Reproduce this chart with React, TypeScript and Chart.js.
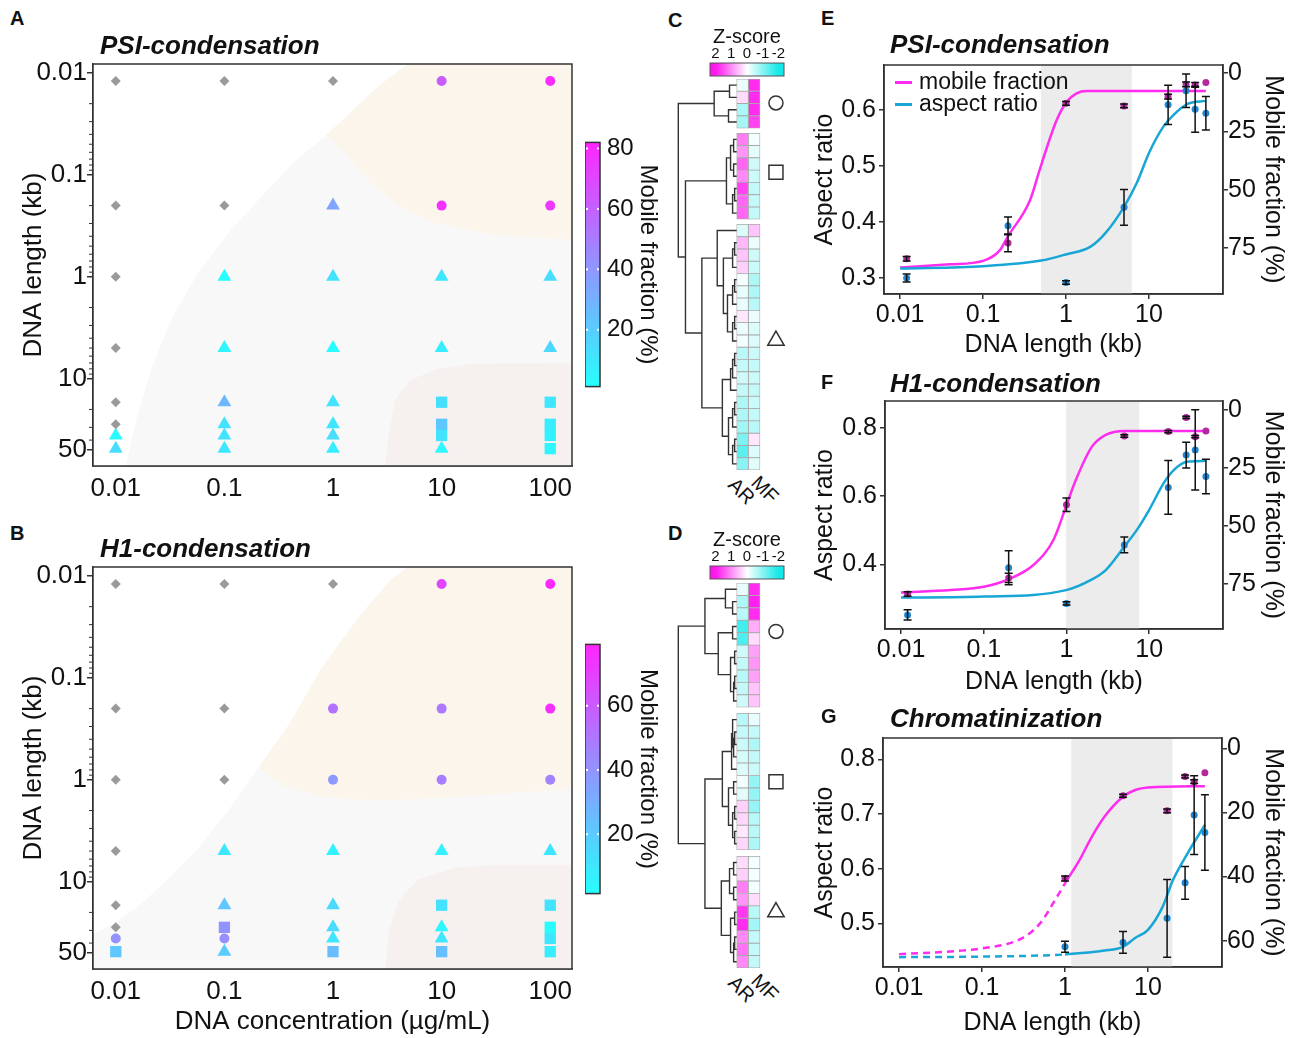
import React, { useEffect, useRef } from 'react';
import { Chart, registerables } from 'chart.js';

Chart.register(...registerables);

const FONT = "'Liberation Sans', Arial, Helvetica, sans-serif";
Chart.defaults.font.family = FONT;
Chart.defaults.color = '#111';

// ================= DATA: panels A & B =================
const concentrations = [0.01, 0.1, 1, 10, 100];
const lengthsKb = [0.012, 0.2, 1, 5, 17, 28, 36, 48.5];
const concTicks = [0.01, 0.1, 1, 10, 100];
const lengthTicks = [0.01, 0.1, 1, 10, 50];
const lengthMinorTicks = [0.02, 0.03, 0.04, 0.05, 0.06, 0.07, 0.08, 0.09, 0.2, 0.3, 0.4, 0.5, 0.6, 0.7, 0.8, 0.9, 2, 3, 4, 5, 6, 7, 8, 9, 20, 30, 40];

// D = no condensate, C = circle, T = triangle, S = square (rows = lengthsKb, cols = concentrations)
const shapesA = ['DDDCC', 'DDTCC', 'DTTTT', 'DTTTT', 'DTTSS', 'DTTSS', 'TTTSS', 'TTTTS'];
const mobileA = [
  [null, null, null, 62, 80],
  [null, null, 35, 78, 75],
  [null, 2, 12, 10, 14],
  [null, 5, 2, 8, 16],
  [null, 28, 12, 13, 10],
  [null, 12, 10, 22, 8],
  [3, 12, 14, 12, 6],
  [14, 10, 8, 4, 5],
];
const shapesB = ['DDDCC', 'DDCCC', 'DDCCC', 'DTTTT', 'DTTSS', 'DSTTS', 'CCTTS', 'STSSS'];
const mobileB = [
  [null, null, null, 68, 78],
  [null, null, 52, 50, 76],
  [null, null, 38, 48, 46],
  [null, 10, 6, 6, 10],
  [null, 22, 15, 12, 12],
  [null, 40, 14, 4, 3],
  [40, 42, 10, 10, 10],
  [22, 20, 25, 24, 8],
];
const colorbarRangeA = [1.2, 82];
const colorbarRangeB = [1.5, 79.1];
const colorbarTicksA = [20, 40, 60, 80];
const colorbarTicksB = [20, 40, 60];

// background regions [concentration, length]
const whiteRegionA = [[0.001, 0.001], [4.91, 0.001], [4.91, 0.0082], [2.69, 0.0131], [1.53, 0.0231], [0.873, 0.0405], [0.458, 0.0714], [0.241, 0.146], [0.108, 0.374], [0.0567, 0.924], [0.0323, 2.65], [0.0216, 7.62], [0.0157, 23.6], [0.0123, 71.9], [0.0118, 1000], [0.001, 1000]];
const beigeRegionA = [[4.91, 0.001], [1000, 0.001], [1000, 0.435], [155, 0.435], [29.9, 0.389], [8.95, 0.299], [4.01, 0.204], [1.95, 0.104], [1.2, 0.057], [0.873, 0.0405], [1.53, 0.0231], [2.69, 0.0131], [4.91, 0.0082]];
const pinkRegionA = [[3.0, 1000], [3.03, 71.9], [3.26, 34.4], [3.72, 16.2], [5.13, 10.3], [8.95, 8.1], [20, 7.1], [1000, 7.0], [1000, 1000]];
const whiteRegionB = [[0.001, 0.001], [4.91, 0.001], [4.91, 0.0081], [3.42, 0.0109], [1.8, 0.0238], [0.806, 0.0764], [0.391, 0.288], [0.205, 0.762], [0.108, 2.02], [0.0568, 4.75], [0.0299, 9.57], [0.0157, 17.9], [0.00968, 25.4], [0.00649, 32.1], [0.001, 40]];
const beigeRegionB = [[4.91, 0.001], [1000, 0.001], [1000, 1.22], [155, 1.22], [13.4, 1.48], [2.69, 1.6], [0.806, 1.48], [0.361, 1.17], [0.205, 0.762], [0.391, 0.288], [0.806, 0.0764], [1.8, 0.0238], [3.42, 0.0109], [4.91, 0.0081]];
const pinkRegionB = [[3.0, 1000], [3.03, 73.8], [3.26, 30.8], [4.02, 15.3], [6.0, 9.57], [13.4, 7.29], [29.9, 6.9], [1000, 6.9], [1000, 1000]];

// ================= DATA: panels C & D (heatmaps) =================
const zTicks = [2, 1, 0, -1, -2];
const groupSizesC = [4, 7, 20];
const zAspectC = [-0.15, 0.3, -0.7, -0.75, 1.1, 0.9, 1.3, 1.0, 1.6, 1.3, 1.3, -0.3, 0.6, 0.5, 0.4, -0.1, -0.2, -0.2, 0.2, -0.15, -0.1, -0.6, -0.5, -0.4, -0.5, -0.7, -0.7, -0.8, -1.1, -1.4, -1.0];
const zMobileC = [1.8, 1.8, 1.8, 1.6, -0.1, -0.25, -0.4, -0.45, -0.5, -0.5, -0.5, 0.5, -0.15, -0.4, -0.45, -0.7, -0.7, -0.6, -0.15, -0.3, -0.3, -0.45, -0.5, -0.45, -0.5, -0.45, -0.5, -0.6, 0.2, -0.3, -0.25];
const mergesC = [
  ['L0', 'L1', 7], ['L2', 'L3', 8], ['M0', 'M1', 22],
  ['L4', 'L5', 3], ['L6', 'L7', 3], ['M3', 'M4', 6], ['L8', 'L9', 2], ['M6', 'L10', 4], ['M5', 'M7', 10],
  ['L12', 'L13', 2], ['M9', 'L14', 4], ['L15', 'L16', 2], ['M11', 'L17', 4], ['L18', 'L19', 2], ['M13', 'L20', 4],
  ['M12', 'M14', 9], ['M10', 'M15', 13], ['L11', 'M16', 19],
  ['L21', 'L22', 2], ['M18', 'L23', 4], ['M19', 'L24', 6], ['L25', 'L26', 2], ['M21', 'L27', 4], ['L28', 'L29', 2], ['M23', 'L30', 4],
  ['M22', 'M24', 8], ['M20', 'M25', 14], ['M17', 'M26', 34], ['M8', 'M27', 50], ['M2', 'M28', 57],
];
const markerRowsC = [1.45, 7.1, 20.8];

const groupSizesD = [10, 11, 9];
const zAspectD = [-0.2, -0.7, -0.6, -1.6, -1.5, -0.4, -0.5, -0.6, -0.5, -0.4, -0.6, -0.5, -0.45, -0.35, -0.3, -0.1, -0.25, 0.4, 0.35, 0.2, 0.35, 0.3, 0.4, 1.1, 0.9, 1.7, 1.8, 1.0, 1.2, 1.0];
const zMobileD = [1.8, 1.9, 1.8, 0.7, 0.3, 0.8, 0.9, 0.8, 0.5, 0.5, -0.2, -0.5, -0.7, -0.5, -0.45, -0.9, -0.9, -0.9, -0.6, -0.6, -0.7, -0.1, -0.1, -0.1, 0.3, -0.6, -0.8, -0.5, -0.5, -0.5];
const mergesD = [
  ['L1', 'L2', 4], ['L0', 'M0', 11], ['L3', 'L4', 4], ['L5', 'L6', 2], ['L7', 'L8', 2], ['M4', 'L9', 3], ['M3', 'M5', 6], ['M2', 'M6', 18], ['M1', 'M7', 31],
  ['L11', 'L12', 2], ['M9', 'L13', 3], ['L10', 'M10', 4], ['M11', 'L14', 5], ['L15', 'L16', 3], ['L17', 'L18', 2], ['L19', 'L20', 2], ['M14', 'M15', 4], ['M13', 'M16', 8], ['M12', 'M17', 14],
  ['L21', 'L22', 3], ['L23', 'L24', 3], ['M19', 'M20', 7], ['L25', 'L26', 2], ['L27', 'L28', 2], ['M23', 'L29', 3], ['M22', 'M24', 6], ['M21', 'M25', 15],
  ['M18', 'M26', 31], ['M8', 'M27', 57],
];
const markerRowsD = [3.4, 15.5, 26.0];

// ================= DATA: panels E, F, G =================
const lengthAxisTicks = [0.01, 0.1, 1, 10];

const bandE = [0.5, 6.2];
const mobileE = [79.6, 72.8, 13.0, 14.1, 10.1, 4.9, 5.1, 4.1];
const mobileErrE = [1.0, 3.8, 0.8, 0.8, 1.0, 1.0, 1.0, 0];
const aspectE = [0.3, 0.393, 0.292, 0.426, 0.609, 0.634, 0.601, 0.594];
const aspectErrE = [0.007, 0.016, 0.003, 0.032, 0.035, 0.03, 0.041, 0.03];
const mobileFitXE = [0.01, 0.04, 0.1, 0.16, 0.198, 0.368, 0.48, 0.61, 0.77, 1.02, 1.34, 1.78, 48.5];
const mobileFitYE = [83.3, 82.0, 80.5, 75.9, 70.2, 54.5, 41.6, 30.2, 20.2, 12.3, 8.7, 7.7, 7.7];
const aspectFitXE = [0.01, 0.1, 0.5, 0.99, 1.98, 2.98, 5.0, 7.1, 10, 14.9, 19.8, 29.6, 48.5];
const aspectFitYE = [0.317, 0.321, 0.331, 0.342, 0.356, 0.38, 0.427, 0.469, 0.523, 0.57, 0.591, 0.611, 0.616];

const bandF = [0.99, 7.6];
const mobileF = [79.3, 72.4, 40.8, 11.2, 9.3, 3.2, 11.5, 9.0];
const mobileErrF = [1.0, 2.0, 2.9, 0.5, 0.5, 0.5, 0.5, 0];
const aspectF = [0.251, 0.39, 0.285, 0.457, 0.626, 0.721, 0.736, 0.658];
const aspectErrF = [0.015, 0.05, 0.005, 0.023, 0.079, 0.038, 0.118, 0.051];
const mobileFitXF = [0.01, 0.04, 0.1, 0.198, 0.405, 0.7, 0.99, 1.3, 2.03, 2.98, 5.0, 48.5];
const mobileFitYF = [78.7, 77.6, 76.2, 73.0, 66.6, 55.8, 41.5, 30.1, 15.8, 10.7, 9.0, 9.0];
const aspectFitXF = [0.01, 0.1, 0.99, 1.98, 2.98, 5.0, 7.1, 10, 14.9, 19.8, 29.6, 48.5];
const aspectFitYF = [0.302, 0.305, 0.324, 0.354, 0.383, 0.452, 0.501, 0.56, 0.638, 0.677, 0.702, 0.704];

const bandG = [1.19, 19.7];
const mobileG = [null, null, 40.6, 14.8, 19.5, 8.8, 10.4, 7.6];
const mobileErrG = [0, 0, 0.8, 0.5, 0.6, 0.5, 0.6, 0];
const aspectG = [null, null, 0.457, 0.465, 0.509, 0.574, 0.698, 0.666];
const aspectErrG = [0, 0, 0.01, 0.02, 0.071, 0.03, 0.072, 0.069];
const mobileFitXG = [0.01, 0.05, 0.1, 0.3, 0.5, 0.8, 1.0, 1.5, 2.0, 3.0, 5.0, 7.0, 10, 48.5];
const mobileFitYG = [64.2, 63.2, 62.4, 59.3, 54.6, 46.3, 42.1, 34.8, 28.6, 21.3, 15.1, 13.0, 12.2, 11.8];
const aspectFitXG = [0.01, 0.1, 0.5, 1.0, 3.0, 5.0, 7.0, 10, 15, 20, 30, 48.5];
const aspectFitYG = [0.438, 0.439, 0.441, 0.443, 0.45, 0.457, 0.473, 0.488, 0.53, 0.579, 0.628, 0.68];

// ================= styles =================
const MAGENTA = '#ff2bef';
const CYAN = '#17a6d6';
const MF_POINT = '#b4299f';
const AR_POINT = '#1f86cf';
const AXIS = '#333';
const GRAY_MARK = '#9a9a9a';

function coolColor(v: number, lo: number, hi: number) {
  const t = Math.max(0, Math.min(1, (v - lo) / (hi - lo)));
  const r = Math.round(255 - 0.85 * 255 * (1 - t));
  const g = Math.round(255 - 0.85 * 255 * t);
  return `rgb(${r},${g},255)`;
}

function zColor(z: number) {
  const t = Math.min(1, Math.abs(z) / 2);
  const target = z >= 0 ? [255, 20, 238] : [20, 232, 232];
  const c = target.map((ch) => Math.round(255 + (ch - 255) * t));
  return `rgb(${c[0]},${c[1]},${c[2]})`;
}

const setTicks = (vals: number[]) => (s: any) => {
  s.ticks = vals.map((v) => ({ value: v }));
};
const noTicks = (s: any) => {
  s.ticks = [];
};
const fmt = (v: any) => String(Math.round(Number(v) * 1000) / 1000);

// ================= plugins =================
function regionPlugin(base: string, items: { color: string; pts: number[][] }[]) {
  return {
    id: 'regions',
    beforeDatasetsDraw(chart: any) {
      const { ctx, chartArea: a, scales } = chart;
      const sx = scales.x;
      const sy = scales.y;
      ctx.save();
      ctx.beginPath();
      ctx.rect(a.left, a.top, a.right - a.left, a.bottom - a.top);
      ctx.clip();
      ctx.fillStyle = base;
      ctx.fillRect(a.left, a.top, a.right - a.left, a.bottom - a.top);
      for (const it of items) {
        ctx.beginPath();
        it.pts.forEach(([vx, vy], i) => {
          const px = sx.getPixelForValue(vx);
          const py = sy.getPixelForValue(vy);
          if (i === 0) ctx.moveTo(px, py);
          else ctx.lineTo(px, py);
        });
        ctx.closePath();
        ctx.fillStyle = it.color;
        ctx.fill();
      }
      ctx.restore();
    },
  };
}

function minorTickPlugin(values: number[]) {
  return {
    id: 'minorTicks',
    afterDatasetsDraw(chart: any) {
      const { ctx, chartArea: a, scales } = chart;
      ctx.save();
      ctx.strokeStyle = AXIS;
      ctx.lineWidth = 1;
      ctx.beginPath();
      values.forEach((v) => {
        const y = scales.y.getPixelForValue(v);
        if (y < a.top || y > a.bottom) return;
        ctx.moveTo(a.left - 4, y);
        ctx.lineTo(a.left, y);
      });
      ctx.stroke();
      ctx.restore();
    },
  };
}

const framePlugin = {
  id: 'frame',
  afterDatasetsDraw(chart: any) {
    const { ctx, chartArea: a } = chart;
    ctx.save();
    ctx.strokeStyle = AXIS;
    ctx.lineWidth = 1.5;
    ctx.strokeRect(a.left, a.top, a.right - a.left, a.bottom - a.top);
    ctx.restore();
  },
};

function bandPlugin(band: number[]) {
  return {
    id: 'band',
    beforeDatasetsDraw(chart: any) {
      const { ctx, chartArea: a, scales } = chart;
      const x1 = scales.x.getPixelForValue(band[0]);
      const x2 = scales.x.getPixelForValue(band[1]);
      ctx.save();
      ctx.fillStyle = '#ececec';
      ctx.fillRect(x1, a.top, x2 - x1, a.bottom - a.top);
      ctx.restore();
    },
  };
}

const errorBarPlugin = {
  id: 'errorBars',
  afterDatasetsDraw(chart: any) {
    const { ctx } = chart;
    ctx.save();
    ctx.strokeStyle = '#111';
    ctx.lineWidth = 1.5;
    chart.data.datasets.forEach((ds: any, i: number) => {
      if (!ds.errors) return;
      const meta = chart.getDatasetMeta(i);
      const ys = chart.scales[ds.yAxisID];
      ds.data.forEach((p: any, j: number) => {
        const e = ds.errors[j];
        if (p.y == null || !e) return;
        const el = meta.data[j];
        if (!el || !isFinite(el.x)) return;
        const x = el.x;
        const y1 = ys.getPixelForValue(p.y - e);
        const y2 = ys.getPixelForValue(p.y + e);
        ctx.beginPath();
        ctx.moveTo(x, y1);
        ctx.lineTo(x, y2);
        ctx.moveTo(x - 4, y1);
        ctx.lineTo(x + 4, y1);
        ctx.moveTo(x - 4, y2);
        ctx.lineTo(x + 4, y2);
        ctx.stroke();
      });
    });
    ctx.restore();
  },
};

function mobileBarPlugin(range: number[], ticks: number[]) {
  return {
    id: 'mobileBar',
    beforeDatasetsDraw(chart: any) {
      const { ctx, chartArea: a, scales } = chart;
      const y = scales.y;
      const g = ctx.createLinearGradient(0, y.getPixelForValue(range[0]), 0, y.getPixelForValue(range[1]));
      for (let i = 0; i <= 10; i++) g.addColorStop(i / 10, coolColor(range[0] + ((range[1] - range[0]) * i) / 10, range[0], range[1]));
      ctx.save();
      ctx.fillStyle = g;
      ctx.fillRect(a.left, a.top, a.right - a.left, a.bottom - a.top);
      ctx.fillStyle = '#fff';
      ticks.forEach((t) => {
        const py = y.getPixelForValue(t);
        ctx.fillRect(a.left + 1, py - 1, 2, 2);
        ctx.fillRect(a.right - 3, py - 1, 2, 2);
      });
      ctx.strokeStyle = AXIS;
      ctx.lineWidth = 1.5;
      ctx.strokeRect(a.left, a.top, a.right - a.left, a.bottom - a.top);
      ctx.restore();
    },
  };
}

const zBarPlugin = {
  id: 'zBar',
  beforeDatasetsDraw(chart: any) {
    const { ctx, chartArea: a, scales } = chart;
    const x = scales.x;
    const zl = x.getValueForPixel(a.left);
    const zr = x.getValueForPixel(a.right);
    const g = ctx.createLinearGradient(a.left, 0, a.right, 0);
    for (let i = 0; i <= 20; i++) g.addColorStop(i / 20, zColor(zl + ((zr - zl) * i) / 20));
    ctx.save();
    ctx.fillStyle = g;
    ctx.fillRect(a.left, a.top, a.right - a.left, a.bottom - a.top);
    ctx.strokeStyle = '#555';
    ctx.lineWidth = 1;
    ctx.strokeRect(a.left, a.top, a.right - a.left, a.bottom - a.top);
    ctx.restore();
  },
};

const baseOptions = {
  animation: false,
  responsive: false,
  devicePixelRatio: 1,
  events: [],
  plugins: { legend: { display: false }, tooltip: { enabled: false } },
};

// ================= chart configs =================
function phaseConfig(shapes: string[], mobile: (number | null)[][], cb: number[], regions: number[][][], xTitle: string, xHeight: number) {
  const styleOf: any = { D: 'rectRot', C: 'circle', T: 'triangle', S: 'rect' };
  const radiusOf: any = { D: 5, C: 5, T: 8, S: 8 };
  const datasets = ['D', 'S', 'T', 'C'].map((key) => {
    const data: any[] = [];
    const colors: string[] = [];
    lengthsKb.forEach((len, r) =>
      concentrations.forEach((c, k) => {
        if (shapes[r][k] !== key) return;
        data.push({ x: c, y: len });
        const m = mobile[r][k];
        colors.push(m == null ? GRAY_MARK : coolColor(m, cb[0], cb[1]));
      })
    );
    return {
      type: 'scatter',
      data,
      pointStyle: styleOf[key],
      pointRadius: radiusOf[key],
      pointHoverRadius: radiusOf[key],
      backgroundColor: colors,
      borderColor: colors,
      borderWidth: 0,
    };
  });
  return {
    type: 'scatter',
    data: { datasets },
    options: {
      ...baseOptions,
      layout: { padding: { top: 20, right: 3, left: 0, bottom: 0 } },
      scales: {
        x: {
          type: 'logarithmic',
          min: 0.00617,
          max: 158.6,
          afterBuildTicks: setTicks(concTicks),
          ticks: { callback: fmt, font: { size: 26 }, color: '#111', padding: 7, maxRotation: 0, autoSkip: false },
          grid: { display: false, drawTicks: false },
          border: { color: AXIS, width: 1.5 },
          title: { display: !!xTitle, text: xTitle, font: { size: 26 }, color: '#111', padding: 0 },
          afterFit: (s: any) => {
            s.height = xHeight;
          },
        },
        y: {
          type: 'logarithmic',
          reverse: true,
          min: 0.00816,
          max: 71.8,
          afterBuildTicks: setTicks(lengthTicks),
          ticks: { callback: fmt, font: { size: 26 }, color: '#111', padding: 0, autoSkip: false },
          grid: { drawOnChartArea: false, drawTicks: true, tickLength: 6, color: AXIS, lineWidth: 1.5 },
          border: { color: AXIS, width: 1.5 },
          title: { display: true, text: 'DNA length (kb)', font: { size: 26 }, color: '#111', padding: 0 },
          afterFit: (s: any) => {
            s.width = 75;
          },
        },
      },
    },
    plugins: [
      regionPlugin('#f8f8f8', [
        { color: '#ffffff', pts: regions[0] },
        { color: '#fbf5eb', pts: regions[1] },
        { color: '#f6f0ee', pts: regions[2] },
      ]),
      minorTickPlugin(lengthMinorTicks),
      framePlugin,
    ],
  };
}

function mobileColorbarConfig(range: number[], ticks: number[]) {
  return {
    type: 'scatter',
    data: { datasets: [] },
    options: {
      ...baseOptions,
      layout: { padding: { top: 20, bottom: 20, left: 0, right: 0 } },
      scales: {
        x: { display: false, min: 0, max: 1 },
        y: {
          position: 'right',
          min: range[0],
          max: range[1],
          afterBuildTicks: setTicks(ticks),
          ticks: { callback: fmt, font: { size: 24 }, color: '#111', padding: 7, autoSkip: false },
          grid: { display: false, drawTicks: false },
          border: { display: false },
          title: { display: true, text: 'Mobile fraction (%)', font: { size: 24 }, color: '#111', padding: 0 },
          afterFit: (s: any) => {
            s.width = 62;
          },
        },
      },
    },
    plugins: [mobileBarPlugin(range, ticks)],
  };
}

function zColorbarConfig() {
  return {
    type: 'scatter',
    data: { datasets: [] },
    options: {
      ...baseOptions,
      layout: { padding: { top: 0, bottom: 1, left: 15, right: 16 } },
      scales: {
        x: {
          position: 'top',
          reverse: true,
          min: -2.35,
          max: 2.35,
          afterBuildTicks: setTicks(zTicks),
          ticks: { callback: fmt, font: { size: 15 }, color: '#111', padding: 0, autoSkip: false, maxRotation: 0 },
          grid: { display: false, drawTicks: false },
          border: { display: false },
          title: { display: true, text: 'Z-score', font: { size: 20 }, color: '#111', padding: 0 },
          afterFit: (s: any) => {
            s.height = 38;
          },
        },
        y: { display: false, min: 0, max: 1 },
      },
    },
    plugins: [zBarPlugin],
  };
}

function heatmapConfig(ar: number[], mf: number[], groups: number[], gap: number, merges: any[], markerRows: number[]) {
  const pos: number[] = [];
  let start = 0;
  groups.forEach((n, gi) => {
    for (let i = 0; i < n; i++) pos.push(start + i + gi * gap);
    start += n;
  });
  const nodes: any = {};
  pos.forEach((p, i) => {
    nodes['L' + i] = { h: 0, y: p };
  });
  const seg: any[] = [];
  merges.forEach(([a, b, h]: any, k: number) => {
    const A = nodes[a];
    const B = nodes[b];
    seg.push({ x: A.h, y: A.y }, { x: h, y: A.y }, { x: h, y: B.y }, { x: B.h, y: B.y }, { x: NaN, y: NaN });
    nodes['M' + k] = { h, y: (A.y + B.y) / 2 };
  });
  const cells = (vals: number[], x0: number) => ({
    type: 'bar',
    indexAxis: 'y',
    grouped: false,
    data: pos.map((p) => ({ x: [x0, x0 + 1], y: p })),
    backgroundColor: vals.map(zColor),
    borderColor: '#a9a9a9',
    borderWidth: 0.8,
    borderSkipped: false,
    barPercentage: 1,
    categoryPercentage: 1,
    xAxisID: 'x',
    yAxisID: 'y',
    order: 2,
  });
  const hidden = { display: false, offset: false, bounds: 'data', grace: 0, afterBuildTicks: noTicks, grid: { offset: false } };
  return {
    type: 'scatter',
    data: {
      datasets: [
        cells(ar, 0),
        cells(mf, 1),
        {
          type: 'line',
          data: seg,
          xAxisID: 'xd',
          yAxisID: 'y',
          borderColor: '#333',
          borderWidth: 1.4,
          pointRadius: 0,
          spanGaps: false,
          tension: 0,
          order: 1,
        },
        {
          type: 'scatter',
          data: markerRows.map((r) => ({ x: 3.37, y: r })),
          xAxisID: 'x',
          yAxisID: 'y',
          pointStyle: ['circle', 'rect', 'triangle'],
          pointRadius: [7, 9.9, 9.5],
          pointHoverRadius: [7, 9.9, 9.5],
          backgroundColor: 'rgba(0,0,0,0)',
          borderColor: '#333',
          borderWidth: 1.5,
          order: 0,
        },
      ],
    },
    options: {
      ...baseOptions,
      layout: { padding: 0, autoPadding: false },
      scales: {
        x: { ...hidden, type: 'linear', min: -5.554, max: 5.004, beginAtZero: false },
        xd: { ...hidden, type: 'linear', axis: 'x', reverse: true, min: -56.9, max: 63.15 },
        y: { ...hidden, type: 'linear', reverse: true, min: -0.5, max: pos[pos.length - 1] + 0.5 },
      },
    },
  };
}

function curveConfig(p: any) {
  const pts = (ys: (number | null)[]) => lengthsKb.map((x, i) => ({ x, y: ys[i] }));
  const curve = (xs: number[], ys: number[]) => xs.map((x, i) => ({ x, y: ys[i] }));
  const segment = p.dashTo ? { borderDash: (ctx: any) => (ctx.p1.parsed.x <= p.dashTo + 1e-9 ? [7, 5] : undefined) } : undefined;
  const yGrid = { drawOnChartArea: false, drawTicks: true, tickLength: 5, color: AXIS, lineWidth: 1.5 };
  return {
    type: 'scatter',
    data: {
      datasets: [
        { type: 'line', label: 'mobile fraction', data: curve(p.mfX, p.mfY), yAxisID: 'y2', borderColor: MAGENTA, borderWidth: 2.5, pointRadius: 0, cubicInterpolationMode: 'monotone', segment, order: 4 },
        { type: 'line', label: 'aspect ratio', data: curve(p.arX, p.arY), yAxisID: 'y', borderColor: CYAN, borderWidth: 2.5, pointRadius: 0, cubicInterpolationMode: 'monotone', segment, order: 3 },
        { type: 'scatter', data: pts(p.mf), errors: p.mfErr, yAxisID: 'y2', pointRadius: 3.5, pointHoverRadius: 3.5, backgroundColor: MF_POINT, borderWidth: 0, order: 2 },
        { type: 'scatter', data: pts(p.ar), errors: p.arErr, yAxisID: 'y', pointRadius: 3.5, pointHoverRadius: 3.5, backgroundColor: AR_POINT, borderWidth: 0, order: 1 },
      ],
    },
    options: {
      ...baseOptions,
      layout: { padding: { top: 20, left: 0, right: 0, bottom: 0 } },
      scales: {
        x: {
          type: 'logarithmic',
          min: 0.0064,
          max: 78,
          afterBuildTicks: setTicks(lengthAxisTicks),
          ticks: { callback: fmt, font: { size: 25 }, color: '#111', padding: 1, maxRotation: 0, autoSkip: false },
          grid: yGrid,
          border: { color: AXIS, width: 1.5 },
          title: { display: true, text: 'DNA length (kb)', font: { size: 25 }, color: '#111', padding: 0 },
          afterFit: (s: any) => {
            s.height = p.xHeight;
          },
        },
        y: {
          position: 'left',
          min: p.arRange[0],
          max: p.arRange[1],
          afterBuildTicks: setTicks(p.arTicks),
          ticks: { callback: fmt, font: { size: 25 }, color: '#111', padding: 3, autoSkip: false },
          grid: yGrid,
          border: { color: AXIS, width: 1.5 },
          title: { display: true, text: 'Aspect ratio', font: { size: 25 }, color: '#111', padding: 0 },
          afterFit: (s: any) => {
            s.width = p.leftWidth;
          },
        },
        y2: {
          position: 'right',
          reverse: true,
          min: p.mfRange[0],
          max: p.mfRange[1],
          afterBuildTicks: setTicks(p.mfTicks),
          ticks: { callback: fmt, font: { size: 25 }, color: '#111', padding: 0, autoSkip: false },
          grid: yGrid,
          border: { color: AXIS, width: 1.5 },
          title: { display: true, text: 'Mobile fraction (%)', font: { size: 25 }, color: '#111', padding: 0 },
          afterFit: (s: any) => {
            s.width = p.rightWidth;
          },
        },
      },
    },
    plugins: [bandPlugin(p.band), errorBarPlugin, framePlugin],
  };
}

// ================= components =================
function ChartBox({ left, top, width, height, make }: any) {
  const ref = useRef<HTMLCanvasElement>(null);
  useEffect(() => {
    const chart = new Chart(ref.current as HTMLCanvasElement, make());
    return () => chart.destroy();
  }, []);
  return <canvas ref={ref} width={width} height={height} style={{ position: 'absolute', left, top, width, height }} />;
}

function Txt({ x, y, size, bold, italic, rotate, children }: any) {
  return (
    <div
      style={{
        position: 'absolute',
        left: x,
        top: y - size / 2,
        fontSize: size,
        lineHeight: `${size}px`,
        fontWeight: bold ? 700 : 400,
        fontStyle: italic ? 'italic' : 'normal',
        whiteSpace: 'nowrap',
        transform: rotate ? `rotate(${rotate}deg)` : undefined,
        transformOrigin: 'left top',
        color: '#111',
      }}
    >
      {children}
    </div>
  );
}

export default function App() {
  return (
    <div style={{ position: 'absolute', left: 0, top: 0, width: 1293, height: 1038, background: '#fff', overflow: 'hidden', fontFamily: FONT }}>
      {/* A */}
      <ChartBox left={18} top={44} width={562} height={462} make={() => phaseConfig(shapesA, mobileA, colorbarRangeA, [whiteRegionA, beigeRegionA, pinkRegionA], '', 40)} />
      <ChartBox left={585} top={121} width={77} height={287} make={() => mobileColorbarConfig(colorbarRangeA, colorbarTicksA)} />
      {/* B */}
      <ChartBox left={18} top={547} width={562} height={490} make={() => phaseConfig(shapesB, mobileB, colorbarRangeB, [whiteRegionB, beigeRegionB, pinkRegionB], 'DNA concentration (µg/mL)', 68)} />
      <ChartBox left={585} top={623} width={77} height={292} make={() => mobileColorbarConfig(colorbarRangeB, colorbarTicksB)} />
      {/* C */}
      <ChartBox left={695} top={25} width={105} height={52} make={() => zColorbarConfig()} />
      <ChartBox left={672} top={79} width={123} height={391} make={() => heatmapConfig(zAspectC, zMobileC, groupSizesC, 0.42, mergesC, markerRowsC)} />
      {/* D */}
      <ChartBox left={695} top={528} width={105} height={52} make={() => zColorbarConfig()} />
      <ChartBox left={672} top={583} width={123} height={385} make={() => heatmapConfig(zAspectD, zMobileD, groupSizesD, 0.5, mergesD, markerRowsD)} />
      {/* E */}
      <ChartBox
        left={810}
        top={45}
        width={478}
        height={315}
        make={() =>
          curveConfig({
            band: bandE, mf: mobileE, mfErr: mobileErrE, ar: aspectE, arErr: aspectErrE,
            mfX: mobileFitXE, mfY: mobileFitYE, arX: aspectFitXE, arY: aspectFitYE,
            arRange: [0.2714, 0.68], arTicks: [0.3, 0.4, 0.5, 0.6], mfRange: [-3.43, 94.7], mfTicks: [0, 25, 50, 75],
            xHeight: 66, leftWidth: 74, rightWidth: 65,
          })
        }
      />
      {/* F */}
      <ChartBox
        left={810}
        top={381}
        width={478}
        height={316}
        make={() =>
          curveConfig({
            band: bandF, mf: mobileF, mfErr: mobileErrF, ar: aspectF, arErr: aspectErrF,
            mfX: mobileFitXF, mfY: mobileFitYF, arX: aspectFitXF, arY: aspectFitYF,
            arRange: [0.2097, 0.88], arTicks: [0.4, 0.6, 0.8], mfRange: [-3.88, 94.4], mfTicks: [0, 25, 50, 75],
            xHeight: 68, leftWidth: 75, rightWidth: 65,
          })
        }
      />
      {/* G */}
      <ChartBox
        left={810}
        top={718}
        width={478}
        height={320}
        make={() =>
          curveConfig({
            band: bandG, mf: mobileG, mfErr: mobileErrG, ar: aspectG, arErr: aspectErrG,
            mfX: mobileFitXG, mfY: mobileFitYG, arX: aspectFitXG, arY: aspectFitYG,
            arRange: [0.42, 0.839], arTicks: [0.5, 0.6, 0.7, 0.8], mfRange: [-3.21, 68.2], mfTicks: [0, 20, 40, 60],
            xHeight: 71, leftWidth: 73, rightWidth: 66, dashTo: 1,
          })
        }
      />

      {/* labels */}
      <Txt x={10} y={18} size={20} bold>A</Txt>
      <Txt x={100} y={45} size={26} bold italic>PSI-condensation</Txt>
      <Txt x={10} y={533} size={20} bold>B</Txt>
      <Txt x={100} y={548} size={26} bold italic>H1-condensation</Txt>
      <Txt x={668} y={20} size={20} bold>C</Txt>
      <Txt x={668} y={533} size={20} bold>D</Txt>
      <Txt x={739} y={484} size={20} rotate={45}>AR</Txt>
      <Txt x={762} y={482} size={20} rotate={45}>MF</Txt>
      <Txt x={739} y={982} size={20} rotate={45}>AR</Txt>
      <Txt x={762} y={980} size={20} rotate={45}>MF</Txt>
      <Txt x={821} y={18} size={20} bold>E</Txt>
      <Txt x={890} y={44} size={26} bold italic>PSI-condensation</Txt>
      <Txt x={821} y={382} size={20} bold>F</Txt>
      <Txt x={890} y={383} size={26} bold italic>H1-condensation</Txt>
      <Txt x={821} y={716} size={20} bold>G</Txt>
      <Txt x={890} y={718} size={26} bold italic>Chromatinization</Txt>
      {/* E legend */}
      <div style={{ position: 'absolute', left: 895, top: 80.5, width: 17, height: 3, background: MAGENTA }} />
      <div style={{ position: 'absolute', left: 895, top: 102.5, width: 17, height: 3, background: CYAN }} />
      <Txt x={919} y={81} size={23}>mobile fraction</Txt>
      <Txt x={919} y={103} size={23}>aspect ratio</Txt>
    </div>
  );
}
